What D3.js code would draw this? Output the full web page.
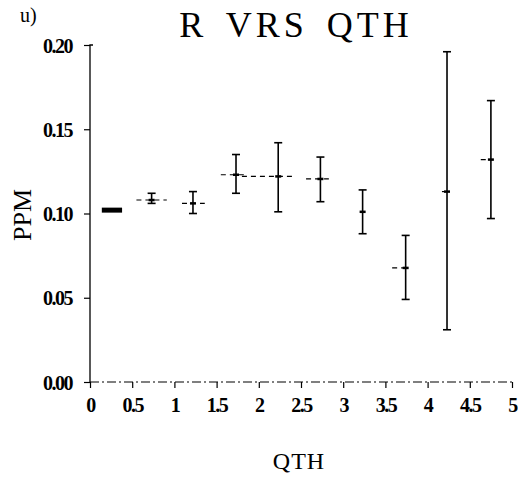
<!DOCTYPE html>
<html lang="en">
<head>
    <meta charset="UTF-8">
    <title>R VRS QTH</title>
    <script src="https://d3js.org/d3.v7.min.js"></script>
    <style>
        body { margin: 0; background: #fff; }
        svg text { font-family: "Liberation Serif", "DejaVu Serif", serif; fill: #000; }
        .tick-label { font-weight: bold; font-size: 20px; letter-spacing: -1.5px; }
    </style>
</head>
<body>
<svg id="chart"></svg>
<script>
    // QTH bin centres and horizontal extent
    const qth = [0.25, 0.73, 1.22, 1.73, 2.23, 2.73, 3.23, 3.74, 4.23, 4.75];
    const qthLow = [0.14, 0.55, 1.09, 1.55, 1.80, 2.56, 3.20, 3.58, 4.17, 4.63];
    const qthHigh = [0.38, 0.91, 1.36, 1.86, 2.43, 2.83, 3.27, 3.76, 4.27, 4.77];
    // PPM values with lower / upper error
    const ppm = [0.102, 0.108, 0.106, 0.123, 0.122, 0.1205, 0.101, 0.0677, 0.113, 0.132];
    const ppmLow = [0.101, 0.106, 0.100, 0.112, 0.101, 0.107, 0.088, 0.049, 0.031, 0.097];
    const ppmHigh = [0.103, 0.112, 0.113, 0.135, 0.142, 0.1335, 0.114, 0.087, 0.196, 0.167];
    // tick values
    const xTicks = [0, 0.5, 1, 1.5, 2, 2.5, 3, 3.5, 4, 4.5, 5];
    const yTicks = [0, 0.05, 0.10, 0.15, 0.20];

    const width = 518, height = 479;
    const svg = d3.select("#chart").attr("width", width).attr("height", height);

    const x = d3.scaleLinear().domain([0, 5]).range([90, 512]);
    const y = d3.scaleLinear().domain([0, 0.2]).range([382, 45]);

    // y axis
    const yAxis = d3.axisLeft(y).tickValues(yTicks).tickSize(6).tickPadding(12)
        .tickFormat(d3.format(".2f"));
    const gy = svg.append("g").attr("transform", `translate(${x(0)},0)`).call(yAxis);
    gy.select(".domain").attr("stroke", "#000").attr("stroke-width", 1.3)
        .attr("d", `M0,${y(0)}V${y(0.2)}h3`);
    gy.selectAll(".tick line").attr("stroke", "#000").attr("stroke-width", 1.2);
    gy.selectAll(".tick text").attr("class", "tick-label").attr("font-size", null)
        .attr("font-family", null).attr("dy", "0.35em");

    // x axis
    const xAxis = d3.axisBottom(x).tickValues(xTicks).tickSize(6).tickPadding(10)
        .tickFormat(d => d3.format("")(d));
    const gx = svg.append("g").attr("transform", `translate(0,${y(0)})`).call(xAxis);
    gx.select(".domain").attr("stroke", "#000").attr("stroke-width", 1.2)
        .attr("stroke-dasharray", "9,3,2,3").attr("d", `M${x(0)},0H${x(5)}`);
    gx.selectAll(".tick line").attr("stroke", "#000").attr("stroke-width", 1.2);
    gx.selectAll(".tick text").attr("class", "tick-label").attr("font-size", null)
        .attr("font-family", null);

    // error bars
    const pts = qth.map((q, i) => ({q, lo: qthLow[i], hi: qthHigh[i], v: ppm[i], vlo: ppmLow[i], vhi: ppmHigh[i]}));
    const g = svg.append("g").attr("stroke", "#000");

    g.selectAll(".hbar").data(pts).enter().append("line")
        .attr("x1", d => x(d.lo)).attr("x2", d => x(d.hi))
        .attr("y1", d => y(d.v)).attr("y2", d => y(d.v))
        .attr("stroke-width", (d, i) => i === 0 ? 5 : 1.2)
        .attr("stroke-dasharray", (d, i) => i === 0 ? null : "5,4");

    g.selectAll(".vbar").data(pts).enter().append("line")
        .attr("x1", d => x(d.q)).attr("x2", d => x(d.q))
        .attr("y1", d => y(d.vlo)).attr("y2", d => y(d.vhi))
        .attr("stroke-width", 1.6);

    g.selectAll(".capTop").data(pts.slice(1)).enter().append("line")
        .attr("x1", d => x(d.q) - 4).attr("x2", d => x(d.q) + 4)
        .attr("y1", d => y(d.vhi)).attr("y2", d => y(d.vhi))
        .attr("stroke-width", 1.6);
    g.selectAll(".capBot").data(pts.slice(1)).enter().append("line")
        .attr("x1", d => x(d.q) - 4).attr("x2", d => x(d.q) + 4)
        .attr("y1", d => y(d.vlo)).attr("y2", d => y(d.vlo))
        .attr("stroke-width", 1.6);

    g.selectAll(".mark").data(pts).enter().append("line")
        .attr("x1", d => x(d.q) - 3).attr("x2", d => x(d.q) + 3)
        .attr("y1", d => y(d.v)).attr("y2", d => y(d.v))
        .attr("stroke-width", 2.5);

    // titles
    svg.append("text").attr("x", 296).attr("y", 37).attr("text-anchor", "middle")
        .attr("font-size", 36).attr("letter-spacing", 4).attr("word-spacing", 6)
        .text("R VRS QTH");
    svg.append("text").attr("x", 20).attr("y", 22).attr("font-size", 20).attr("fill", "#555")
        .text("u)");
    svg.append("text").attr("x", 299).attr("y", 469).attr("text-anchor", "middle")
        .attr("font-size", 24).attr("letter-spacing", 1).text("QTH");
    svg.append("text").attr("transform", "translate(31,215) rotate(-90)")
        .attr("text-anchor", "middle").attr("font-size", 26).text("PPM");
</script>
</body>
</html>
